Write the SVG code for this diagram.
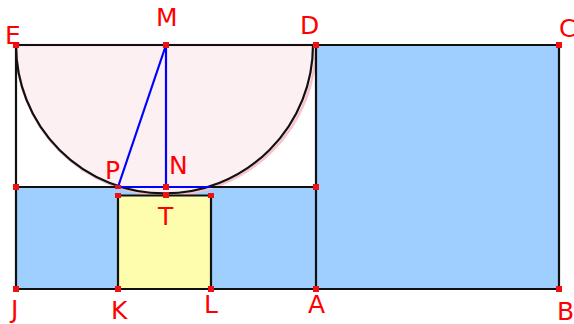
<svg xmlns="http://www.w3.org/2000/svg" width="574" height="324" viewBox="0 0 574 324">
<style>
.lbl{font-family:"DejaVu Sans","Liberation Sans",sans-serif;font-size:25px;fill:#ff0000}
.pt{fill:#ee1111}
.edge{fill:none;stroke:#111;stroke-width:2.2}
.blue{fill:none;stroke:#0000ff;stroke-width:2.2}
</style>
<rect width="574" height="324" fill="#ffffff"/>
<g id="shapes">
<rect x="316" y="45" width="243" height="244" fill="#9ecfff"/>
<rect x="16" y="187" width="300" height="102" fill="#9ecfff"/>
<rect x="118" y="195.5" width="93" height="93.5" fill="#fdfdad"/>
<path d="M16,45 A150,150 0 0 0 316,45 Z" fill="#fdf0f2" stroke="#f7c2c8" stroke-width="2.5"/>
</g>
<g id="connectors">
<path class="edge" d="M16,45 L559,45 L559,289 L16,289 Z"/>
<path class="edge" d="M316,45 L316,289"/>
<path class="edge" d="M16,187 L316,187"/>
<path class="edge" d="M118,289 L118,195.5 L211,195.5 L211,289"/>
<path class="edge" d="M16,45 A148.5,148.5 0 0 0 313,45"/>
<path class="blue" d="M166,45 L118,187"/>
<path class="blue" d="M166,45 L166,187"/>
<path class="blue" d="M118,187 L211,187"/>
</g>
<g id="E"><rect class="pt" x="13" y="42" width="6" height="6"/><text class="lbl" x="5" y="44">E</text></g>
<g id="M"><rect class="pt" x="163" y="42" width="6" height="6"/><text class="lbl" x="156" y="26">M</text></g>
<g id="D"><rect class="pt" x="313" y="42" width="6" height="6"/><text class="lbl" x="300" y="34">D</text></g>
<g id="C"><rect class="pt" x="556" y="42" width="6" height="6"/><text class="lbl" x="559" y="37">C</text></g>
<g id="B"><rect class="pt" x="556" y="286" width="6" height="6"/><text class="lbl" x="557" y="320">B</text></g>
<g id="A"><rect class="pt" x="313" y="286" width="6" height="6"/><text class="lbl" x="308" y="313">A</text></g>
<g id="L"><rect class="pt" x="208" y="286" width="6" height="6"/><text class="lbl" x="204" y="313">L</text></g>
<g id="K"><rect class="pt" x="115" y="286" width="6" height="6"/><text class="lbl" x="111" y="319">K</text></g>
<g id="J"><rect class="pt" x="13" y="286" width="6" height="6"/><text class="lbl" x="11" y="318">J</text></g>
<g id="G"><rect class="pt" x="13" y="184" width="6" height="6"/></g>
<g id="H"><rect class="pt" x="313" y="184" width="6" height="6"/></g>
<g id="P"><rect class="pt" x="115" y="185" width="6" height="4"/><text class="lbl" x="105" y="179">P</text></g>
<g id="N"><rect class="pt" x="163" y="184" width="6" height="6"/><text class="lbl" x="169" y="174">N</text></g>
<g id="T"><rect class="pt" x="163" y="192" width="6" height="6"/><text class="lbl" x="158" y="225">T</text></g>
<g id="Q"><rect class="pt" x="115" y="193" width="6" height="5"/></g>
<g id="R"><rect class="pt" x="208" y="193" width="6" height="5"/></g>
</svg>
